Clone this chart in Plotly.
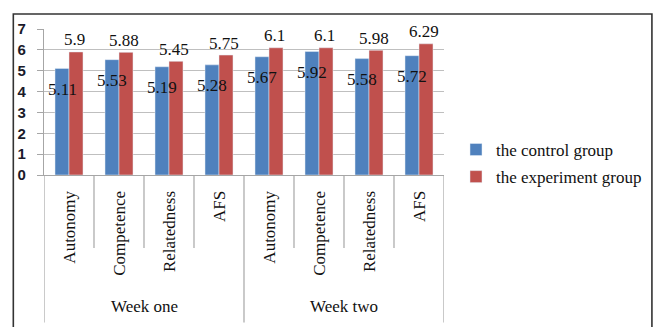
import plotly.graph_objects as go

categories = ["Autonomy", "Competence", "Relatedness", "AFS",
              "Autonomy", "Competence", "Relatedness", "AFS"]
groups = ["Week one", "Week two"]
control = [5.11, 5.53, 5.19, 5.28, 5.67, 5.92, 5.58, 5.72]
experiment = [5.9, 5.88, 5.45, 5.75, 6.1, 6.1, 5.98, 6.29]
series_names = ["the control group", "the experiment group"]
y_ticks = [0, 1, 2, 3, 4, 5, 6, 7]

BLUE = "#4F81BD"
RED = "#C0504D"
SERIF = "Liberation Serif, Times New Roman, serif"
SANS = "Liberation Sans, Arial, sans-serif"

xs = list(range(len(categories)))
bar_w = 0.28

fig = go.Figure()
fig.add_trace(go.Bar(x=[x - bar_w / 2 for x in xs], y=control, width=bar_w,
                     name=series_names[0], marker_color=BLUE,
                     legendgroup="a"))
fig.add_trace(go.Bar(x=[x + bar_w / 2 for x in xs], y=experiment, width=bar_w,
                     name=series_names[1], marker_color=RED,
                     legendgroup="b"))

ann = []
for x, v in zip(xs, control):
    ann.append(dict(x=x - bar_w / 2, y=v, xref="x", yref="y", text=f"{v:g}",
                    showarrow=False, yanchor="middle", yshift=-21,
                    font=dict(family=SERIF, size=17, color="#111")))
for x, v in zip(xs, experiment):
    ann.append(dict(x=x + bar_w / 2, y=v, xref="x", yref="y", text=f"{v:g}",
                    showarrow=False, yanchor="middle", yshift=12, xshift=-2,
                    font=dict(family=SERIF, size=17, color="#111")))

n_per = len(categories) // len(groups)
for gi, g in enumerate(groups):
    ann.append(dict(x=gi * n_per + (n_per - 1) / 2, y=-0.904, xref="x", yref="paper",
                    text=g, showarrow=False, yanchor="middle",
                    font=dict(family=SERIF, size=17, color="#111")))

shapes = []
for b in range(len(categories) + 1):
    xb = b - 0.5
    outer = (b % n_per == 0)
    shapes.append(dict(type="line", xref="x", yref="paper", x0=xb, x1=xb,
                       y0=0, y1=-1.01 if outer else -0.5,
                       line=dict(color="#A6A6A6", width=1.2)))
# outer frame
shapes.append(dict(type="rect", xref="paper", yref="paper",
                   x0=-0.0767, x1=1.5198, y0=-1.2, y1=1.1027,
                   line=dict(color="#333333", width=1.6)))

fig.update_layout(
    width=659, height=327,
    margin=dict(l=44, r=211, t=29, b=152),
    paper_bgcolor="white", plot_bgcolor="white",
    barmode="overlay",
    showlegend=True,
    legend=dict(x=1.03, xanchor="left", y=0.079, yanchor="middle",
                font=dict(family=SERIF, size=17, color="#111"),
                traceorder="grouped", tracegroupgap=2,
                bgcolor="rgba(0,0,0,0)"),
    annotations=ann,
    shapes=shapes,
)
fig.update_xaxes(range=[-0.5, len(categories) - 0.5], tickvals=xs, ticktext=categories,
                 tickangle=-90, showgrid=False, zeroline=False,
                 showline=True, linecolor="#A6A6A6", linewidth=1.2,
                 ticks="outside", ticklen=8, tickcolor="rgba(0,0,0,0)",
                 tickfont=dict(family=SERIF, size=17, color="#111"))
fig.update_yaxes(range=[0, 7], tickvals=y_ticks, showgrid=True, gridcolor="#BFBFBF",
                 gridwidth=1.2, zeroline=False, showline=True, linecolor="#A6A6A6",
                 linewidth=1.2, ticks="outside", ticklen=6, tickcolor="#A6A6A6",
                 ticklabelstandoff=8,
                 tickfont=dict(family=SANS, size=15, color="#1a1a2a", weight="bold"))

fig.write_html("out.html")
